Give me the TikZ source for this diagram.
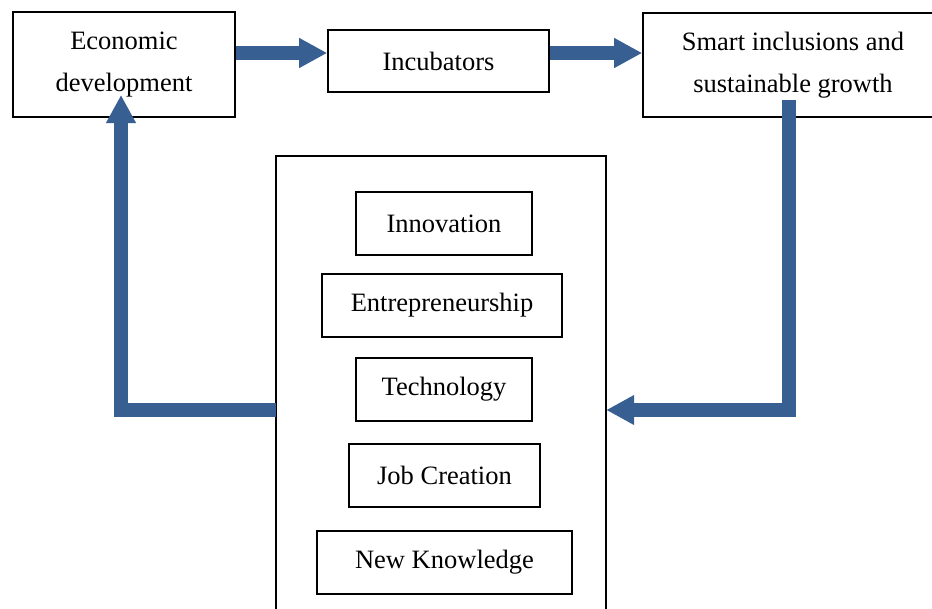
\documentclass[tikz,border=0pt]{standalone}
\usepackage{fontspec}
\setmainfont{Liberation Serif}
\usetikzlibrary{arrows.meta}
\definecolor{flowblue}{RGB}{55,95,146}
\begin{document}
\begin{tikzpicture}[x=1pt,y=-1pt,
  box/.style={draw=black, line width=1.6pt, inner sep=0pt, align=center,
              font=\fontsize{26.5}{42}\selectfont},
  panelbox/.style={draw=none, inner sep=0pt},
  frame/.style={draw=black, line width=1.6pt},
  flow/.style={draw=flowblue, line width=14pt, line join=miter,
               -{Triangle[length=28pt,width=28pt]}},
]
\useasboundingbox (0,0) rectangle (932,608);
\clip (0,0) rectangle (932,608);

% top row
\node[box, minimum width=222pt, minimum height=105pt] (econ) at (124,64.5) {Economic\\development};
\node[box, minimum width=221pt, minimum height=62pt] (incub) at (438.5,61) {Incubators};
\node[box, minimum width=300pt, minimum height=104pt] (smart) at (793,65) {Smart inclusions and\\sustainable growth};

% central panel, open at the bottom
\node[panelbox, minimum width=330pt, minimum height=484pt] (panel) at (441,398) {};
\draw[frame] (panel.south west) -- (panel.north west) -- (panel.north east) -- (panel.south east);

% items inside the panel
\node[box, minimum width=176pt, minimum height=63pt] (innov) at (444,223.5) {Innovation};
\node[box, minimum width=240pt, minimum height=63pt] (entre) at (442,305.5) {Entrepreneurship};
\node[box, minimum width=176pt, minimum height=63pt] (tech) at (444,389.5) {Technology};
\node[box, minimum width=191pt, minimum height=63pt] (jobs) at (444.5,475.5) {Job Creation};
\node[box, minimum width=255pt, minimum height=63pt] (know) at (444.5,562.5) {New Knowledge};

% loop ends
\coordinate (rdrop) at (789,100);
\coordinate (lrise) at (121,95);

% flows
\draw[flow] (econ.east |- 0,53) -- (incub.west |- 0,53);
\draw[flow] (incub.east |- 0,53) -- (smart.west |- 0,53);
\draw[flow] (rdrop) |- (panel.east |- 0,410);
\draw[flow] (panel.west |- 0,410) -| (lrise);
\end{tikzpicture}
\end{document}
